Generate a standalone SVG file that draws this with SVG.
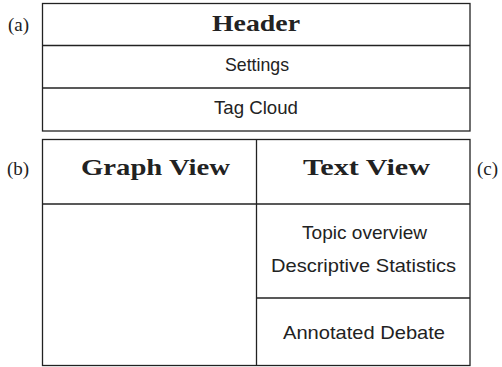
<svg xmlns="http://www.w3.org/2000/svg" width="502" height="367" viewBox="0 0 502 367">
<style>
.box{fill:#fff;stroke:#222;stroke-width:1.3}
.ln{stroke:#222;stroke-width:1.3;fill:none}
.hd{font-family:"Liberation Serif",serif;font-weight:bold;font-size:24px;fill:#222}
.lb{font-family:"Liberation Serif",serif;font-size:19px;fill:#222}
.sn{font-family:"Liberation Sans",sans-serif;font-size:18.5px;fill:#222;text-anchor:middle}
</style>
<rect width="502" height="367" fill="#fff"/>
<g id="panel-a">
<rect class="box" x="42.5" y="3.5" width="427.5" height="127.5"/>
<text class="lb" x="8" y="31">(a)</text>
</g>
<g id="header">
<text class="hd" x="212" y="31" textLength="88" lengthAdjust="spacingAndGlyphs">Header</text>
</g>
<g id="settings">
<text class="sn" x="257" y="71" textLength="64" lengthAdjust="spacingAndGlyphs">Settings</text>
</g>
<g id="tagcloud">
<text class="sn" x="256" y="114" textLength="84" lengthAdjust="spacingAndGlyphs">Tag Cloud</text>
</g>
<g id="panel-b">
<rect class="box" x="42.5" y="139.5" width="427.5" height="226"/>
<text class="lb" x="7" y="175">(b)</text>
<text class="lb" x="477" y="175">(c)</text>
</g>
<g id="graphview">
<text class="hd" x="81" y="175" textLength="149" lengthAdjust="spacingAndGlyphs">Graph View</text>
</g>
<g id="textview">
<text class="hd" x="303" y="175" textLength="127" lengthAdjust="spacingAndGlyphs">Text View</text>
</g>
<g id="topic">
<text class="sn" x="364.5" y="239" textLength="125" lengthAdjust="spacingAndGlyphs">Topic overview</text>
<text class="sn" x="363.5" y="272" textLength="185" lengthAdjust="spacingAndGlyphs">Descriptive Statistics</text>
</g>
<g id="debate">
<text class="sn" x="364" y="339" textLength="162" lengthAdjust="spacingAndGlyphs">Annotated Debate</text>
</g>
<g id="connectors">
<line class="ln" x1="42.5" y1="45.5" x2="470" y2="45.5"/>
<line class="ln" x1="42.5" y1="88" x2="470" y2="88"/>
<line class="ln" x1="42.5" y1="204" x2="470" y2="204"/>
<line class="ln" x1="256.5" y1="139.5" x2="256.5" y2="365.5"/>
<line class="ln" x1="256.5" y1="298" x2="470" y2="298"/>
</g>
</svg>
